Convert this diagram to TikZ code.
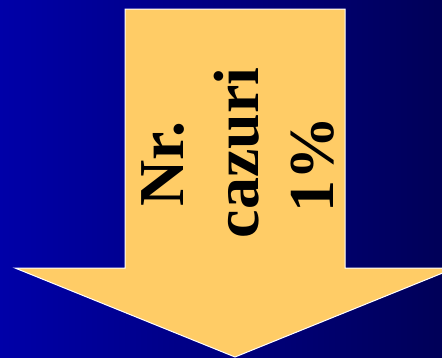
\documentclass[tikz,border=0pt]{standalone}
\usepackage{fontspec}
\setmainfont{Liberation Serif}
\usetikzlibrary{positioning}

\definecolor{bgleft}{RGB}{0,0,168}
\definecolor{bgright}{RGB}{0,0,88}
\definecolor{arrowfill}{RGB}{255,204,102}

\begin{document}
\begin{tikzpicture}[x=1pt, y=1pt]
\tikzstyle{bigarrow}=[draw=white, line width=1pt, fill=arrowfill, line join=miter]
\tikzstyle{lbl}=[font=\fontsize{64}{75}\selectfont\bfseries, text=black, align=center, inner sep=0pt]
\useasboundingbox (0,0) rectangle (442,-357);
\clip (0,0) rectangle (442,-357);
% background
\shade[left color=bgleft, right color=bgright] (0,0) rectangle (442,-357);
% the arrow
\coordinate (tl) at (125,-9);
\coordinate (tr) at (345,-9);
\coordinate (sr) at (345,-268);
\coordinate (hr) at (455,-268);
\coordinate (tip) at (235,-357);
\coordinate (hl) at (15,-268);
\coordinate (sl) at (125,-268);
\draw[bigarrow] (tl) -- (tr) -- (sr) -- (hr) -- (tip) -- (hl) -- (sl) -- cycle;
\node[lbl, rotate=90] (txt) at (238,-153) {Nr.\hspace*{22pt}\\cazuri\\1\%\hspace*{22pt}};
\end{tikzpicture}
\end{document}
